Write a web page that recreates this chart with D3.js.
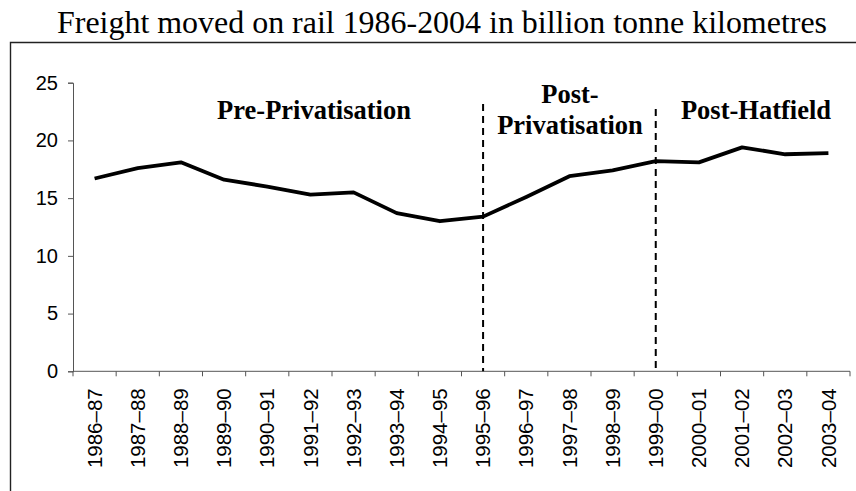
<!DOCTYPE html>
<html>
<head>
<meta charset="utf-8">
<script src="https://cdn.jsdelivr.net/npm/d3@7"></script>
<style>
  html, body { margin: 0; padding: 0; background: #fff; }
  svg { display: block; }
</style>
</head>
<body>
<svg id="chart" width="856" height="491"></svg>
<script>
// Financial years shown along the x axis
const periods = ["1986–87", "1987–88", "1988–89", "1989–90", "1990–91", "1991–92",
  "1992–93", "1993–94", "1994–95", "1995–96", "1996–97", "1997–98", "1998–99",
  "1999–00", "2000–01", "2001–02", "2002–03", "2003–04"];

// Freight moved, billion tonne kilometres
const freight = [16.7, 17.6, 18.1, 16.6, 16.0, 15.3, 15.5, 13.7, 13.0, 13.4,
  15.1, 16.9, 17.4, 18.2, 18.1, 19.4, 18.8, 18.9];

const yTicks = [0, 5, 10, 15, 20, 25];

// Period boundaries (dashed dividers) and era captions
const eraBreaks = ["1995–96", "1999–00"];
const eraLabels = [
  { lines: ["Pre-Privatisation"] },
  { lines: ["Post-", "Privatisation"] },
  { lines: ["Post-Hatfield"] }
];

const titleText = "Freight moved on rail 1986-2004 in billion tonne kilometres";

const svg = d3.select("#chart");
const plot = { left: 73, right: 850, top: 82.7, bottom: 371.3 };

const x = d3.scaleBand().domain(periods).range([plot.left, plot.right]).padding(0);
const y = d3.scaleLinear().domain([0, 25]).range([plot.bottom, plot.top]);
const cx = d => x(d) + x.bandwidth() / 2;

// Outer frame (left and top edges; the rest runs off the canvas)
svg.append("path")
  .attr("d", "M10.5,491 L10.5,42.5 L856,42.5")
  .attr("fill", "none").attr("stroke", "#222").attr("stroke-width", 1.4);

// Title
svg.append("text")
  .attr("x", 442).attr("y", 33)
  .attr("text-anchor", "middle")
  .attr("font-family", "'Liberation Serif', 'Times New Roman', serif")
  .attr("font-size", 30.5)
  .attr("textLength", 770)
  .attr("lengthAdjust", "spacingAndGlyphs")
  .attr("fill", "#000")
  .text(titleText);

// Y axis
const yAxis = svg.append("g")
  .attr("transform", `translate(${plot.left},0)`)
  .call(d3.axisLeft(y).tickValues(yTicks).tickSize(5).tickPadding(10));
yAxis.select(".domain").attr("stroke", "#555");
yAxis.selectAll(".tick line").attr("stroke", "#555");
yAxis.selectAll(".tick text")
  .attr("font-family", "'Liberation Sans', Arial, sans-serif")
  .attr("font-size", 20).attr("fill", "#000");

// X axis: tick marks on category boundaries, labels at category centres
const xAxis = svg.append("g").attr("transform", `translate(0,${plot.bottom})`);
xAxis.append("line")
  .attr("x1", plot.left).attr("x2", plot.right)
  .attr("stroke", "#555");
const bounds = periods.map(p => x(p)).concat([x.range()[1]]);
xAxis.selectAll("line.tick").data(bounds).join("line")
  .attr("class", "tick")
  .attr("x1", d => d).attr("x2", d => d)
  .attr("y1", 0).attr("y2", 5)
  .attr("stroke", "#555");
xAxis.selectAll("text").data(periods).join("text")
  .attr("transform", d => `translate(${cx(d)},17) rotate(-90)`)
  .attr("text-anchor", "end")
  .attr("dy", "0.35em")
  .attr("font-family", "'Liberation Sans', Arial, sans-serif")
  .attr("font-size", 20.5)
  .attr("fill", "#000")
  .text(d => d);

// Dashed era dividers
svg.selectAll("line.divider").data(eraBreaks).join("line")
  .attr("class", "divider")
  .attr("x1", d => cx(d)).attr("x2", d => cx(d))
  .attr("y1", (d, i) => i === 0 ? 104 : 109)
  .attr("y2", plot.bottom)
  .attr("stroke", "#000").attr("stroke-width", 2)
  .attr("stroke-dasharray", "7,5");

// Freight line
const line = d3.line()
  .x((d, i) => cx(periods[i]))
  .y(d => y(d));
svg.append("path")
  .datum(freight)
  .attr("d", line)
  .attr("fill", "none")
  .attr("stroke", "#000")
  .attr("stroke-width", 3.8)
  .attr("stroke-linejoin", "round");

// Era captions
const captionX = [314, 570, 756];
const captionBase = [119.3, 103, 119.3];
eraLabels.forEach((e, i) => {
  const t = svg.append("text")
    .attr("x", captionX[i]).attr("y", captionBase[i])
    .attr("text-anchor", "middle")
    .attr("font-family", "'Liberation Serif', 'Times New Roman', serif")
    .attr("font-weight", "bold")
    .attr("font-size", 26.5)
    .attr("fill", "#000");
  e.lines.forEach((l, j) => {
    t.append("tspan").attr("x", captionX[i]).attr("dy", j === 0 ? 0 : 31).text(l);
  });
});
</script>
</body>
</html>
